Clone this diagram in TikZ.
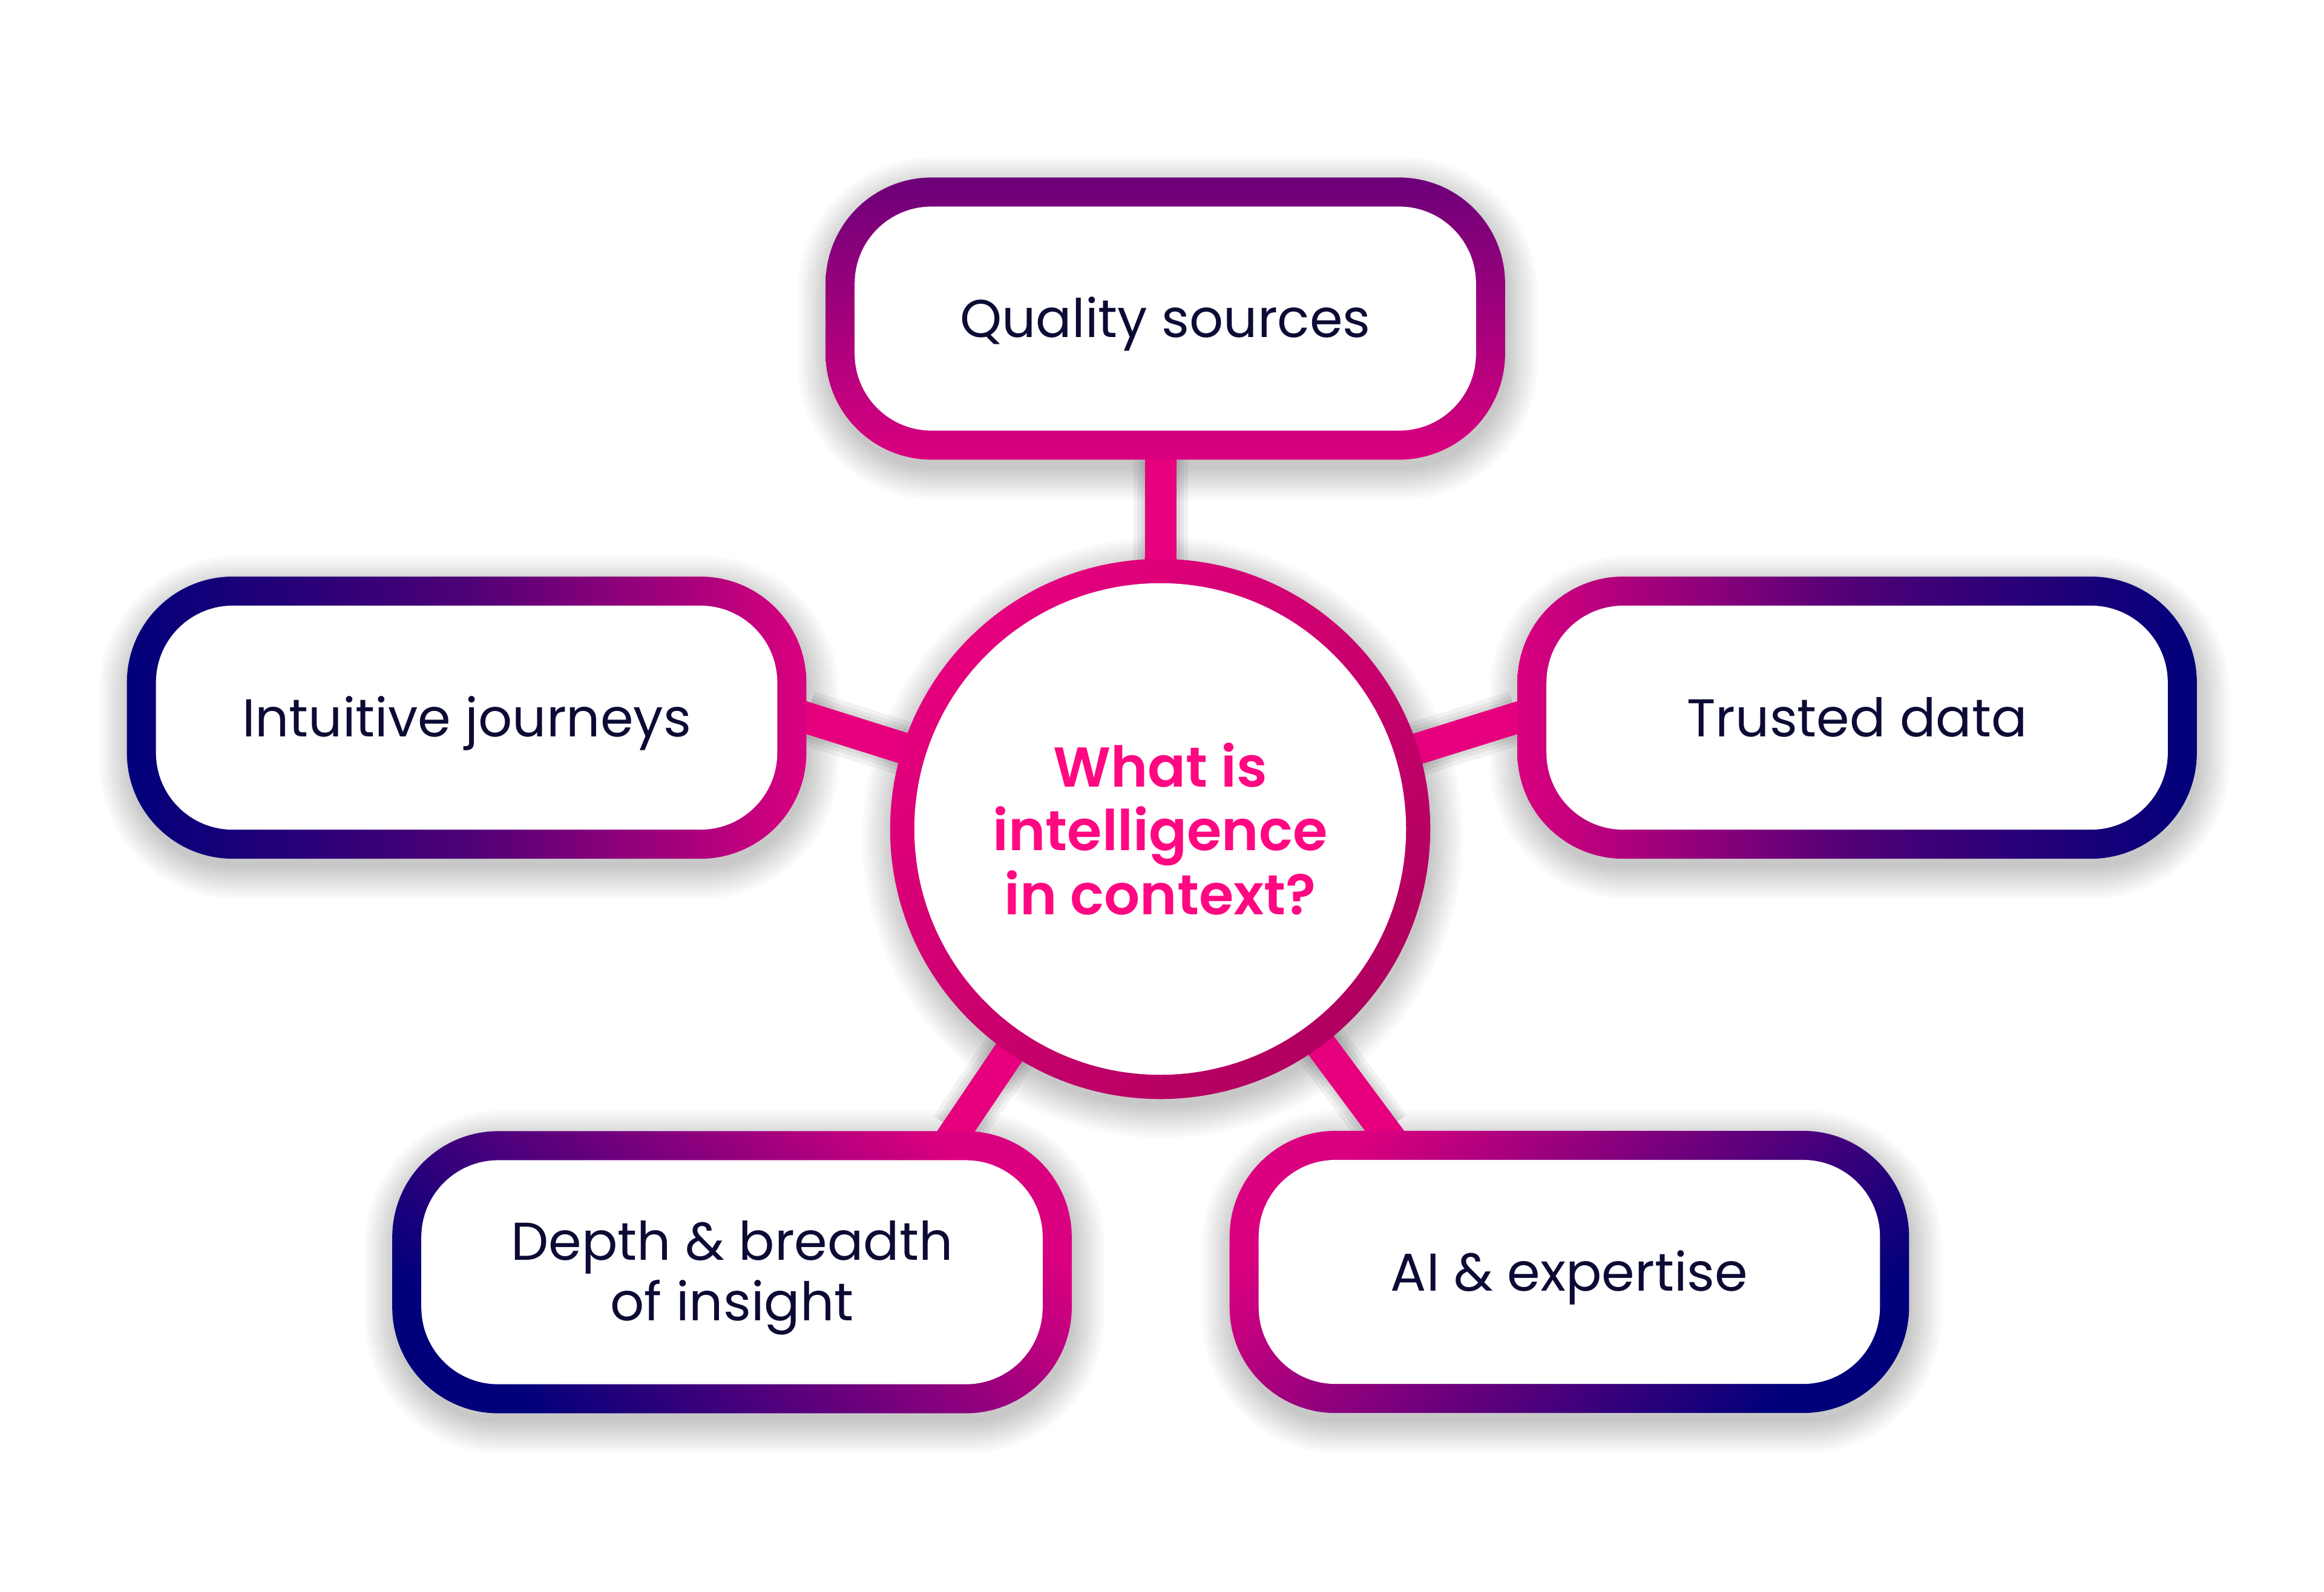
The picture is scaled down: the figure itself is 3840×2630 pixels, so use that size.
\documentclass[tikz,border=0pt]{standalone}
\usepackage{fontspec}
\setmainfont{Poppins}
\newfontfamily\titlefont{Poppins SemiBold}
\usetikzlibrary{calc}
\definecolor{hotpink}{HTML}{E6007E}
\definecolor{ringdark}{HTML}{B0005F}
\definecolor{navyb}{HTML}{00007A}
\definecolor{purp}{HTML}{6C0079}
\definecolor{boxpink}{HTML}{DA007F}
\definecolor{midpurp}{HTML}{4E0076}
\definecolor{txt}{HTML}{0B0B35}
\definecolor{titlepink}{HTML}{FF0882}
\pgfdeclarelayer{paper}
\pgfdeclarelayer{shadowlayer}
\pgfdeclarelayer{connlayer}
\pgfsetlayers{paper,shadowlayer,connlayer,main}
\begin{document}
\begin{tikzpicture}[x=0.01cm,y=-0.01cm,
  outerbox/.style={rectangle, rounded corners=1.75cm, minimum width=11.22cm, minimum height=4.66cm, inner sep=0pt, outer sep=0pt},
  innerbox/.style={rectangle, rounded corners=1.27cm, fill=white, minimum width=10.26cm, minimum height=3.7cm, inner sep=0pt, outer sep=0pt, align=center, text=txt, text height=0.62cm, text depth=0cm, font=\fontsize{25}{28.5}\selectfont},
  conn/.style={line width=0.52cm, hotpink},
  connshadow/.style={line width=#1, black, opacity=0.05},
  softshadow/.style={fill=black, opacity=0.02},
]
\useasboundingbox (0,0) rectangle (3840,2630);
\begin{pgfonlayer}{paper}
\fill[white] (0,0) rectangle (3840,2630);
\end{pgfonlayer}

% circle
\node[circle, minimum size=8.92cm, inner sep=0pt, outer sep=0pt, top color=hotpink, bottom color=ringdark, shading angle=45] (c) at (1917,1370) {};
\node[circle, minimum size=8.12cm, fill=white, inner sep=0pt, align=center, text=titlepink, font=\titlefont\fontsize{26.4}{29.9}\selectfont] (cin) at (c.center) {What is\\intelligence\\in context?};

% boxes
\node[outerbox, top color=purp, bottom color=boxpink] (q) at (1925.5,526.5) {};
\node[innerbox] (qin) at (q.center) {Quality sources};

\node[outerbox, left color=navyb, right color=boxpink, middle color=midpurp] (i) at (771,1186) {};
\node[innerbox] (iin) at (i.center) {Intuitive journeys};

\node[outerbox, left color=boxpink, right color=navyb, middle color=midpurp] (t) at (3068.5,1186) {};
\node[innerbox] (tin) at (t.center) {Trusted data};

\node[outerbox, top color=boxpink, bottom color=navyb, shading angle=-45] (d) at (1209.5,2102.5) {};
\node[innerbox, text height=1.6cm, text depth=0cm] (din) at (d.center) {Depth \& breadth\\of insight};

\node[outerbox, top color=boxpink, bottom color=navyb, shading angle=45] (a) at (2593,2102) {};
\node[innerbox] (ain) at (a.center) {AI \& expertise};

\coordinate (qs) at ([xshift=-0.075cm]q.south);
\coordinate (dt) at ([xshift=3.7cm]d.north);
\coordinate (at) at ([xshift=-3.05cm]a.north);

% connectors
\begin{pgfonlayer}{connlayer}
\draw[conn] (c.center) -- ($(c.center)!1.06!(qs)$);
\draw[conn] (c.center) -- ($(c.center)!1.06!(i.east)$);
\draw[conn] (c.center) -- ($(c.center)!1.06!(t.west)$);
\draw[conn] (c.center) -- ($(c.center)!1.08!(dt)$);
\draw[conn] (c.center) -- ($(c.center)!1.08!(at)$);
\end{pgfonlayer}

% shadows
\begin{pgfonlayer}{shadowlayer}
\begin{scope}[yshift=-0.14cm, xshift=0.04cm]
\foreach \w in {0.9cm,0.76cm,0.64cm}{
  \draw[connshadow=\w] (c.center) -- (qs);
  \draw[connshadow=\w] (c.center) -- (i.east);
  \draw[connshadow=\w] (c.center) -- (t.west);
  \draw[connshadow=\w] (c.center) -- (dt);
  \draw[connshadow=\w] (c.center) -- (at);
}
\end{scope}
\foreach \e in {0,5,...,50}{
  \pgfmathsetmacro{\rr}{1.75+\e/100}
  \pgfmathsetmacro{\cr}{4.46+\e/100}
  \fill[softshadow] ($(c.center)+(4,14)$) circle (\cr cm);
  \foreach \n in {q,i,t,d,a}{
    \fill[softshadow, rounded corners=\rr cm] ($(\n.south west)+(-\e+4,\e+16)$) rectangle ($(\n.north east)+(\e+4,-\e+16)$);
  }
}
\end{pgfonlayer}
\end{tikzpicture}
\end{document}
